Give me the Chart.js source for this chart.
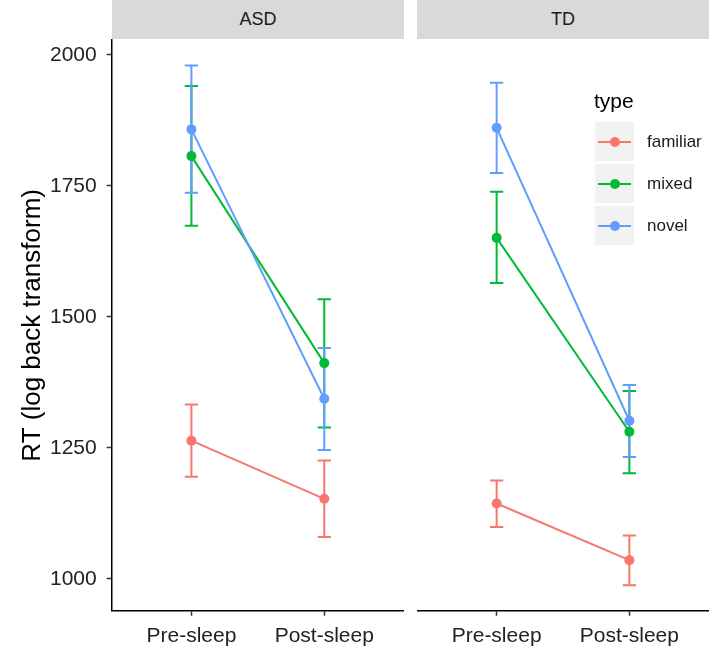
<!DOCTYPE html>
<html>
<head>
<meta charset="utf-8">
<script src="https://cdn.jsdelivr.net/npm/chart.js@4.4.1/dist/chart.umd.min.js"></script>
<style>
  html, body { margin:0; padding:0; background:#fff; }
  body { width:709px; height:648px; position:relative; overflow:hidden; font-family:"Liberation Sans", Arial, Helvetica, sans-serif; }
  .strip { position:absolute; top:0; height:39px; background:#d9d9d9; color:#1a1a1a; font-size:18px; display:flex; align-items:center; justify-content:center; }
  canvas { position:absolute; top:0; }
  #legend { position:absolute; left:594px; top:88px; }
  #legend .title { font-size:21px; color:#000; height:34px; line-height:26px; }
  #legend .item { position:relative; height:39px; margin-bottom:3px; }
  #legend .key { position:absolute; left:1px; top:0; width:39px; height:39px; background:#f2f2f2; }
  #legend .key .ln { position:absolute; left:3px; width:33px; top:18.5px; height:2px; }
  #legend .key .pt { position:absolute; left:14.5px; top:14.5px; width:10px; height:10px; border-radius:50%; }
  #legend .lab { position:absolute; left:53px; top:0; height:39px; line-height:39px; font-size:17px; color:#1a1a1a; }
</style>
</head>
<body>
<div class="strip" style="left:112px; width:292px;">ASD</div>
<div class="strip" style="left:417px; width:292px;">TD</div>
<canvas id="cASD" width="404" height="648" style="left:0px; width:404px; height:648px;"></canvas>
<canvas id="cTD" width="292" height="648" style="left:417px; width:292px; height:648px;"></canvas>
<div id="legend"></div>
<script>
// ---- data ----
const categories = ['Pre-sleep', 'Post-sleep'];
const types = ['familiar', 'mixed', 'novel'];
const typeColors = ['#F8766D', '#00BA38', '#619CFF'];
const yTicks = [1000, 1250, 1500, 1750, 2000];

// ASD panel
const asdFamiliar   = [1264, 1153];
const asdFamiliarLo = [1195, 1080];
const asdFamiliarHi = [1333, 1226];
const asdMixed      = [1807, 1412];
const asdMixedLo    = [1674, 1289];
const asdMixedHi    = [1941, 1534];
const asdNovel      = [1858, 1344];
const asdNovelLo    = [1737, 1246];
const asdNovelHi    = [1980, 1441];

// TD panel
const tdFamiliar   = [1144, 1036];
const tdFamiliarLo = [1099, 988];
const tdFamiliarHi = [1188, 1083];
const tdMixed      = [1651, 1281];
const tdMixedLo    = [1565, 1202];
const tdMixedHi    = [1739, 1359];
const tdNovel      = [1861, 1302];
const tdNovelLo    = [1775, 1233];
const tdNovelHi    = [1947, 1370];

const Y_MIN = 939.5, Y_MAX = 2028.6;
const FONT = '"Liberation Sans", Arial, Helvetica, sans-serif';

const errorBars = {
  id: 'errorBars',
  beforeDatasetsDraw(chart) {
    const ctx = chart.ctx, xs = chart.scales.x, ys = chart.scales.y;
    ctx.save();
    chart.data.datasets.forEach(ds => {
      ctx.strokeStyle = ds.borderColor;
      ctx.lineWidth = 2;
      ds.errLo.forEach((lo, j) => {
        const px = xs.getPixelForValue(j);
        const hw = (xs.getPixelForValue(1) - xs.getPixelForValue(0)) * 0.05;
        const yl = ys.getPixelForValue(lo);
        const yh = ys.getPixelForValue(ds.errHi[j]);
        ctx.beginPath();
        ctx.moveTo(px, yl); ctx.lineTo(px, yh);
        ctx.moveTo(px - hw, yl); ctx.lineTo(px + hw, yl);
        ctx.moveTo(px - hw, yh); ctx.lineTo(px + hw, yh);
        ctx.stroke();
      });
    });
    ctx.restore();
  }
};

function mkDataset(i, vals, lo, hi) {
  return {
    label: types[i],
    data: vals.map((v, j) => ({ x: j, y: v })),
    errLo: lo, errHi: hi,
    borderColor: typeColors[i],
    backgroundColor: typeColors[i],
    pointBackgroundColor: typeColors[i],
    pointBorderWidth: 0,
    pointRadius: 5,
    borderWidth: 2,
    tension: 0,
    order: 2 - i
  };
}

function makeChart(id, sets, showY) {
  return new Chart(document.getElementById(id), {
    type: 'line',
    data: { datasets: sets },
    plugins: [errorBars],
    options: {
      responsive: false,
      animation: false,
      devicePixelRatio: 1,
      events: [],
      layout: { autoPadding: false, padding: { top: 40, left: 0, right: 0, bottom: 0 } },
      plugins: { legend: { display: false }, tooltip: { enabled: false } },
      scales: {
        x: {
          type: 'linear', min: -0.6, max: 1.6,
          afterBuildTicks: s => { s.ticks = categories.map((c, i) => ({ value: i })); },
          afterFit: s => { s.height = 37.3; },
          ticks: { callback: v => categories[v], font: { size: 21, family: FONT }, color: '#222', padding: 8, autoSkip: false, maxRotation: 0 },
          grid: { display: true, drawOnChartArea: false, drawTicks: true, tickLength: 5, tickColor: '#333', tickWidth: 1.5 },
          border: { display: true, color: '#000', width: 1.5 }
        },
        y: {
          type: 'linear', min: Y_MIN, max: Y_MAX, display: showY,
          afterBuildTicks: s => { s.ticks = yTicks.map(v => ({ value: v })); },
          afterFit: s => { s.width = showY ? 111.7 : 0; },
          ticks: { callback: v => String(v), font: { size: 21, family: FONT }, color: '#222', padding: 10 },
          grid: { display: true, drawOnChartArea: false, drawTicks: true, tickLength: 5, tickColor: '#333', tickWidth: 1.5 },
          border: { display: true, color: '#000', width: 1.5 },
          title: { display: true, text: 'RT (log back transform)', font: { size: 26, family: FONT }, color: '#000', padding: { top: 17, bottom: 0 } }
        }
      }
    }
  });
}

makeChart('cASD', [
  mkDataset(0, asdFamiliar, asdFamiliarLo, asdFamiliarHi),
  mkDataset(1, asdMixed, asdMixedLo, asdMixedHi),
  mkDataset(2, asdNovel, asdNovelLo, asdNovelHi)
], true);

makeChart('cTD', [
  mkDataset(0, tdFamiliar, tdFamiliarLo, tdFamiliarHi),
  mkDataset(1, tdMixed, tdMixedLo, tdMixedHi),
  mkDataset(2, tdNovel, tdNovelLo, tdNovelHi)
], false);

// legend (HTML)
const lg = document.getElementById('legend');
let html = '<div class="title">type</div>';
types.forEach((t, i) => {
  html += '<div class="item"><div class="key"><div class="ln" style="background:' + typeColors[i] + '"></div>' +
          '<div class="pt" style="background:' + typeColors[i] + '"></div></div><div class="lab">' + t + '</div></div>';
});
lg.innerHTML = html;
</script>
</body>
</html>
